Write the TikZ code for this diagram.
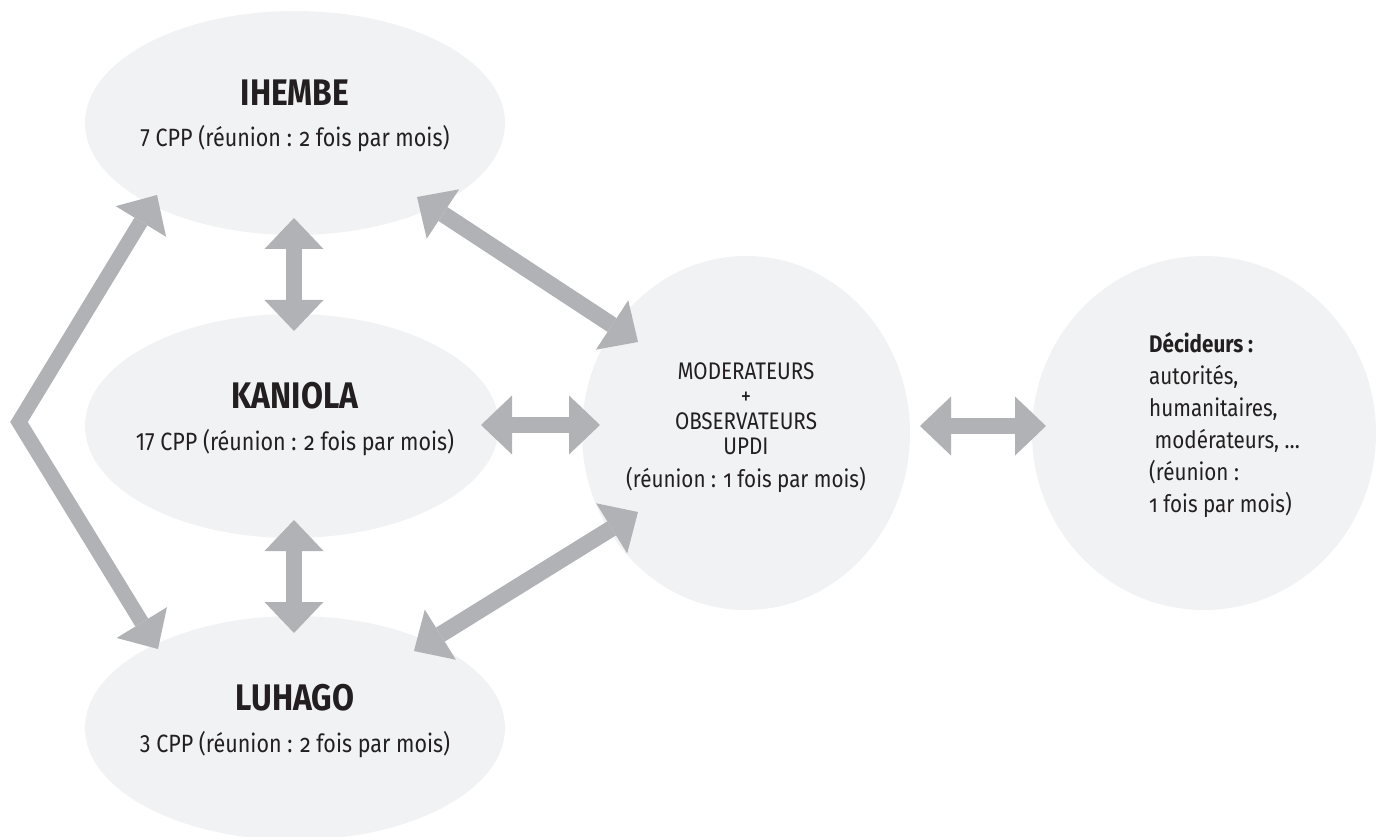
\documentclass[tikz,border=0pt]{standalone}
\usepackage{fontspec}
\setmainfont{Fira Sans}[FakeStretch=0.86]
\newfontfamily\osfont{Fira Sans}[FakeStretch=0.86, Numbers=OldStyle]
\usetikzlibrary{arrows.meta,shapes.geometric,calc}

\definecolor{bubble}{HTML}{F1F2F3}
\definecolor{linkgray}{HTML}{B1B2B6}
\definecolor{ink}{HTML}{231F20}

\newcommand{\osf}[1]{{\osfont #1}}

\tikzset{
  site/.style={ellipse, fill=bubble, inner sep=0pt,
               minimum width=420pt, minimum height=224pt},
  hubshape/.style={ellipse, fill=bubble, inner sep=0pt,
               minimum width=328pt, minimum height=354pt},
  sitename/.style={anchor=base, inner sep=0pt, text=ink,
               font=\fontsize{37}{42}\selectfont\bfseries},
  siteinfo/.style={anchor=base, inner sep=0pt, text=ink,
               font=\fontsize{25}{30}\selectfont},
  duplex/.style={draw=linkgray, line width=16.5pt, line join=miter,
               {Triangle[length=31pt, width=59pt, line width=0pt]}-{Triangle[length=31pt, width=59pt, line width=0pt]}},
}

\begin{document}
\begin{tikzpicture}[x=1pt, y=-1pt]
  \useasboundingbox (0,0) rectangle (1385,837);

  % bubbles
  \node[site] (ihembe)  at (295,123) {};
  \node[site, minimum width=414pt] (kaniola) at (292,426) {};
  \node[site] (luhago)  at (295,728) {};
  \node[hubshape] (hub) at (746,433) {};
  \node[hubshape, minimum width=344pt] (deciders) at (1204,433) {};

  % bubble texts
  \node[sitename] (ihembe-t)  at ($(ihembe)+(0,-17)$)  {IHEMBE};
  \node[siteinfo] (ihembe-s)  at ($(ihembe)+(0,24)$)   {7 CPP (réunion : \osf{2} fois par mois)};
  \node[sitename] (kaniola-t) at ($(kaniola)+(3,-18)$) {KANIOLA};
  \node[siteinfo] (kaniola-s) at ($(kaniola)+(3,24)$)  {17 CPP (réunion : \osf{2} fois par mois)};
  \node[sitename] (luhago-t)  at ($(luhago)+(0,-18)$)  {LUHAGO};
  \node[siteinfo] (luhago-s)  at ($(luhago)+(0,24)$)   {3 CPP (réunion : \osf{2} fois par mois)};

  \node[align=center, inner sep=0pt, text=ink,
        font=\fontsize{24}{25}\selectfont] (hub-t) at ($(hub)+(0,-5)$)
    {MODERATEURS\\+\\OBSERVATEURS\\UPDI\\[8pt](réunion : \osf{1} fois par mois)};

  \node[align=left, anchor=north west, inner sep=0pt, text=ink,
        font=\fontsize{24}{32}\selectfont] (deciders-t) at ($(deciders)+(-55,-101)$)
    {\textbf{Décideurs :}\\autorités,\\humanitaires,\\\ modérateurs, …\\(réunion :\\\osf{1} fois par mois)};

  % connectors
  \coordinate (bend) at (19,422);
  \draw[duplex] ($(ihembe)+(-1,95)$) -- ($(kaniola)+(2,-95)$);
  \draw[duplex] ($(kaniola)+(2,94)$) -- ($(luhago)+(-1,-95)$);
  \draw[duplex] ($(kaniola)+(189,-1)$) -- ($(hub)+(-146,-8)$);
  \draw[duplex] ($(hub)+(174,-7)$) -- ($(deciders)+(-158,-7)$);
  \draw[duplex] ($(ihembe)+(122,74)$) -- ($(hub)+(-108,-91)$);
  \draw[duplex] ($(luhago)+(119,-77)$) -- ($(hub)+(-108,79)$);
  \draw[duplex, line width=15pt] ($(ihembe)+(-138,72)$) -- (bend) -- ($(luhago)+(-137,-79)$);
\end{tikzpicture}
\end{document}
